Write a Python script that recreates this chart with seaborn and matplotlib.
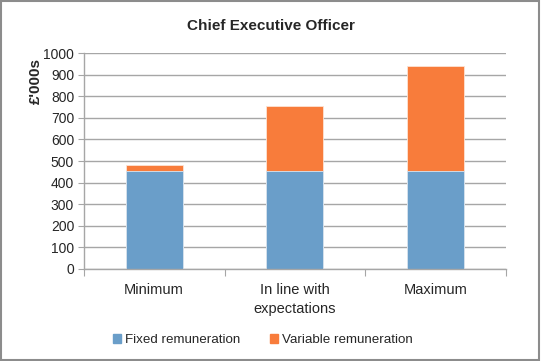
import pandas as pd
import matplotlib
matplotlib.use('Agg')
import matplotlib.pyplot as plt
import seaborn as sns
from matplotlib.patches import Patch

categorias = ['Minimum', 'In line with\nexpectations', 'Maximum']
fixo = [455, 455, 455]
variavel = [27, 300, 485]

df = pd.DataFrame({'Cenario': categorias, 'Fixo': fixo, 'Variavel': variavel})
df['Total'] = df['Fixo'] + df['Variavel']

azul = '#6a9ec9'
laranja = '#f87c3b'
cinza = '#a6a6a6'

sns.set_style('white')
plt.rcParams['font.family'] = ['Liberation Sans', 'DejaVu Sans']

fig = plt.figure(figsize=(5.41, 3.61), dpi=100)
ax = fig.add_axes([0.155, 0.255, 0.78, 0.598])

# barra total (laranja) por baixo, parte fixa (azul) por cima
sns.barplot(data=df, x='Cenario', y='Total', color=laranja, width=0.405,
            edgecolor='#fde3d3', linewidth=0.6, saturation=1, ax=ax)
sns.barplot(data=df, x='Cenario', y='Fixo', color=azul, width=0.405,
            edgecolor='#d9e6f2', linewidth=0.6, saturation=1, ax=ax)

ax.set_ylim(0, 1000)
ax.set_xlim(-0.5, 2.5)
ax.set_yticks(range(0, 1001, 100))
ax.tick_params(axis='y', labelsize=10, length=4, color=cinza, direction='out', left=True, pad=3)
ax.set_xticks([-0.5, 0.5, 1.5, 2.5], minor=False)
ax.set_xticklabels(['', '', '', ''])
ax.set_xticks([0, 1, 2], minor=True)
ax.set_xticklabels(categorias, minor=True, fontsize=10.5, linespacing=1.45)
ax.tick_params(axis='x', which='major', length=5, color=cinza, direction='out', bottom=True)
ax.tick_params(axis='x', which='minor', length=0, pad=10)
ax.grid(axis='y', color=cinza, linewidth=1)
ax.set_axisbelow(True)
for lado in ['top', 'right']:
    ax.spines[lado].set_visible(False)
for lado in ['left', 'bottom']:
    ax.spines[lado].set_color(cinza)
    ax.spines[lado].set_linewidth(1)

ax.set_xlabel('')
ax.set_ylabel("£'000s", fontsize=11, fontweight='bold')
ax.yaxis.set_label_coords(-0.098, 0.87)
fig.suptitle('Chief Executive Officer', fontsize=11, fontweight='bold', y=0.948)

handles = [Patch(color=azul, label='Fixed remuneration'),
           Patch(color=laranja, label='Variable remuneration')]
fig.legend(handles=handles, loc='center', bbox_to_anchor=(0.486, 0.058), ncol=2,
           frameon=False, fontsize=9.6, handlelength=0.6, handleheight=0.6,
           handletextpad=0.3, columnspacing=2.2)

fig.patches.append(plt.Rectangle((0.002, 0.003), 0.995, 0.993, transform=fig.transFigure,
                                 fill=False, edgecolor='#8c8c8c', linewidth=1.5))

plt.savefig('out.png', dpi=100)
